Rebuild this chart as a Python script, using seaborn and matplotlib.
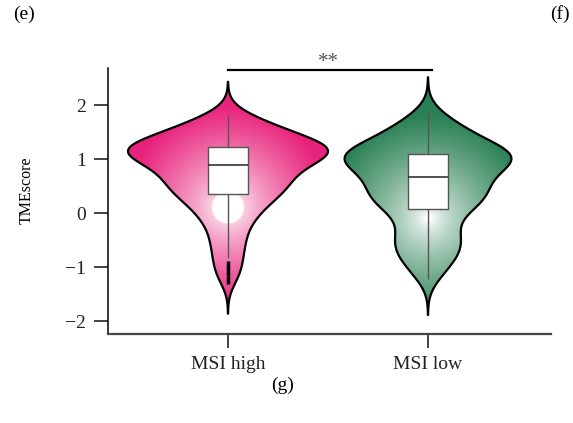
import numpy as np
import pandas as pd
import matplotlib
matplotlib.use('Agg')
import matplotlib.pyplot as plt
import seaborn as sns

# --- data ---
groups = ['MSI high', 'MSI low']
msi_high = [
    1.24, 1.26, 1.28, 1.30, 1.32, 1.34, 1.36, 1.38, 1.40, 1.43,
    1.46, 1.49, 1.52, 1.55, 1.58, 1.62, 1.66, 1.70, 1.75, 1.81,
    0.92, 0.95, 0.98, 1.00, 1.02, 1.04, 1.06, 1.08, 1.10, 1.11,
    1.12, 1.13, 1.14, 1.15, 1.16, 1.17, 1.18, 1.19, 1.20, 1.21,
    0.36, 0.38, 0.41, 0.44, 0.47, 0.50, 0.53, 0.56, 0.59, 0.62,
    0.65, 0.68, 0.71, 0.74, 0.77, 0.80, 0.82, 0.84, 0.86, 0.88,
    0.33, 0.29, 0.25, 0.20, 0.15, 0.10, 0.05, 0.00, -0.06, -0.13,
    -0.21, -0.30, -0.40, -0.50, -0.61, -0.72, -0.84, -0.97, -1.10, -1.24,
]
msi_low = [
    1.11, 1.13, 1.15, 1.17, 1.19, 1.21, 1.24, 1.27, 1.30, 1.33,
    1.36, 1.40, 1.44, 1.48, 1.52, 1.57, 1.62, 1.68, 1.75, 1.85,
    0.69, 0.72, 0.75, 0.78, 0.81, 0.84, 0.87, 0.89, 0.91, 0.93,
    0.95, 0.97, 0.99, 1.01, 1.02, 1.03, 1.04, 1.05, 1.06, 1.08,
    0.08, 0.11, 0.14, 0.17, 0.20, 0.23, 0.26, 0.29, 0.32, 0.35,
    0.38, 0.41, 0.44, 0.47, 0.50, 0.53, 0.56, 0.59, 0.62, 0.65,
    0.04, -0.03, -0.10, -0.17, -0.24, -0.31, -0.37, -0.43, -0.48, -0.53,
    -0.58, -0.63, -0.68, -0.73, -0.79, -0.85, -0.92, -1.00, -1.10, -1.22,
]
edge_colors = ['#E8237C', '#2A8055']
glow_centers = [0.11, -0.10]   # where the gradient is whitest (TMEscore)
yticks = [-2, -1, 0, 1, 2]

df = pd.DataFrame({
    'group': [groups[0]] * len(msi_high) + [groups[1]] * len(msi_low),
    'TMEscore': msi_high + msi_low,
})

plt.rcParams['font.family'] = ['Liberation Serif', 'DejaVu Serif']
fig = plt.figure(figsize=(5.73, 4.23), dpi=100)
ax = fig.add_axes([108 / 573, 89 / 423, 443 / 573, 266 / 423])

sns.violinplot(data=df, x='group', y='TMEscore', order=groups, inner=None,
               density_norm='area', width=1.0, bw_adjust=0.75, cut=2.8,
               color='white', linewidth=1.6, ax=ax)
violins = list(ax.collections)

XLIM = (-0.6, 1.615)
YLIM = (-2.24, 2.69)
ax.set_xlim(*XLIM)
ax.set_ylim(*YLIM)

# radial gradient fill clipped to each violin
px_x = 443 / (XLIM[1] - XLIM[0])
px_y = 266 / (YLIM[1] - YLIM[0])
for i, (coll, col) in enumerate(zip(violins, edge_colors)):
    path = coll.get_paths()[0]
    v = path.vertices
    x0, x1 = v[:, 0].min(), v[:, 0].max()
    y0, y1 = v[:, 1].min(), v[:, 1].max()
    xx, yy = np.meshgrid(np.linspace(x0, x1, 300), np.linspace(y0, y1, 600))
    d = np.hypot((xx - i) * px_x, (yy - glow_centers[i]) * px_y)
    if i == 0:
        t = 0.2 + 0.8 * np.clip((d - 16) / 85, 0, 1) ** 0.8
        t[d < 16] = 0
    else:
        t = np.clip((d - 3) / 100, 0, 1) ** 0.7
    rgb = np.array(matplotlib.colors.to_rgb(col))
    img = 1 - t[..., None] * (1 - rgb)
    im = ax.imshow(img, extent=(x0, x1, y0, y1), origin='lower',
                   aspect='auto', zorder=1, interpolation='bilinear')
    im.set_clip_path(path, ax.transData)
    coll.set_facecolor('none')
    coll.set_edgecolor('black')
    coll.set_zorder(2)

sns.boxplot(data=df, x='group', y='TMEscore', order=groups, width=0.2,
            showcaps=False, fliersize=3, linewidth=1.0, whis=1.5,
            boxprops=dict(facecolor='white', edgecolor='#555555', zorder=3),
            whiskerprops=dict(color='#555555', zorder=3),
            medianprops=dict(color='#333333', linewidth=1.2, zorder=4),
            flierprops=dict(marker='|', markersize=6, markeredgewidth=2.5,
                            markeredgecolor='black', zorder=4),
            ax=ax)

ax.set_xlim(*XLIM)
ax.set_ylim(*YLIM)
ax.set_yticks(yticks)
ax.set_xlabel('')
ax.set_ylabel('TMEscore', fontsize=11.5)
ax.yaxis.set_label_coords(-0.165, 0.54)
ax.tick_params(axis='both', length=10, width=1.2, labelsize=14, pad=6,
               colors='#222222')
for side in ['top', 'right']:
    ax.spines[side].set_visible(False)
ax.spines['left'].set_linewidth(1.1)
ax.spines['bottom'].set_linewidth(1.6)
ax.spines['bottom'].set_color('#444444')

# significance bar
ax.plot([0, 1.02], [2.65, 2.65], color='black', lw=1.6, clip_on=False)
ax.text(0.5, 2.79, '**', ha='center', va='center', fontsize=15,
        color='#555555')

fig.text(13 / 573, 1 - 14 / 423, '(e)', ha='left', va='center', fontsize=14)
fig.text(560 / 573, 1 - 14 / 423, '(f)', ha='center', va='center', fontsize=14)
fig.text(283 / 573, 1 - 385 / 423, '(g)', ha='center', va='center', fontsize=14)

fig.savefig('out.png', dpi=100)
